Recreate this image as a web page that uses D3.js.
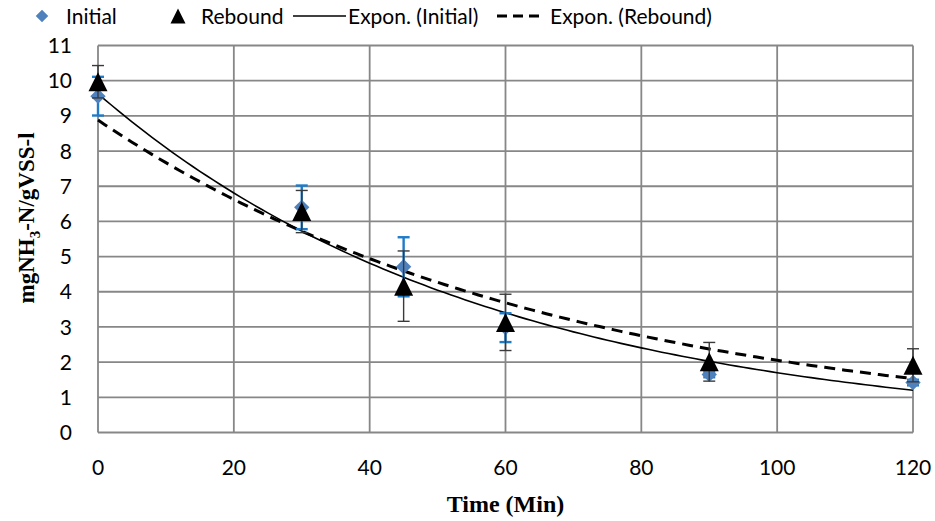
<!DOCTYPE html>
<html>
<head>
<meta charset="utf-8">
<script src="https://cdn.jsdelivr.net/npm/d3@7"></script>
<style>
  body { margin: 0; background: #fff; }
  .tick-label { font-family: Lato, "Open Sans", sans-serif; font-size: 21px; fill: #000; }
  .legend-text { font-family: Lato, "Open Sans", sans-serif; font-size: 21px; fill: #000; }
  .axis-title { font-family: "Liberation Serif", "Times New Roman", serif; font-weight: bold; fill: #000; }
</style>
</head>
<body>
<script>
// data
const times = [0, 30, 45, 60, 90, 120];
const initialValues = [9.56, 6.40, 4.71, 2.98, 1.65, 1.42];
const initialErrors = [0.55, 0.62, 0.84, 0.41, 0.08, 0.08];
const reboundValues = [9.97, 6.28, 4.16, 3.13, 2.01, 1.91];
const reboundErrors = [0.46, 0.60, 1.00, 0.80, 0.55, 0.47];
const xTicks = [0, 20, 40, 60, 80, 100, 120];
const yTicks = [0, 1, 2, 3, 4, 5, 6, 7, 8, 9, 10, 11];

const width = 935;
const height = 521;
const plot = { left: 98, right: 913, top: 45.5, bottom: 432.5 };

const svg = d3.select('body').append('svg')
    .attr('width', width)
    .attr('height', height);

const xScale = d3.scaleLinear().domain([0, 120]).range([plot.left, plot.right]);
const yScale = d3.scaleLinear().domain([0, 11]).range([plot.bottom, plot.top]);

// exponential trendline, least squares on ln(y) like Excel does
function expFit(xs, ys) {
    const ly = ys.map(Math.log);
    const mx = d3.mean(xs), my = d3.mean(ly);
    const sxy = d3.sum(xs, (x, i) => (x - mx) * (ly[i] - my));
    const sxx = d3.sum(xs, x => (x - mx) * (x - mx));
    const b = sxy / sxx;
    const a = Math.exp(my - b * mx);
    return x => a * Math.exp(b * x);
}
const fitInitial = expFit(times, initialValues);
const fitRebound = expFit(times, reboundValues);

// excel style triangle marker, as wide as it is tall
const tri = s => `M0,${-s / 2}L${s / 2},${s / 2}L${-s / 2},${s / 2}Z`;

// gridlines
const grid = svg.append('g').attr('stroke', '#878787').attr('stroke-width', 1.8);
grid.selectAll('.hgrid')
    .data(yTicks)
    .enter()
    .append('line')
    .attr('x1', plot.left).attr('x2', plot.right)
    .attr('y1', d => yScale(d)).attr('y2', d => yScale(d));
grid.selectAll('.vgrid')
    .data(xTicks)
    .enter()
    .append('line')
    .attr('x1', d => xScale(d)).attr('x2', d => xScale(d))
    .attr('y1', plot.top).attr('y2', plot.bottom);

// tick labels
svg.selectAll('.ylab')
    .data(yTicks)
    .enter()
    .append('text')
    .attr('class', 'tick-label')
    .attr('text-anchor', 'end')
    .attr('x', 72)
    .attr('y', d => yScale(d))
    .attr('dy', '0.36em')
    .text(d => d);

svg.selectAll('.xlab')
    .data(xTicks)
    .enter()
    .append('text')
    .attr('class', 'tick-label')
    .attr('text-anchor', 'middle')
    .attr('x', d => xScale(d))
    .attr('y', 475)
    .text(d => d);

// axis titles
svg.append('text')
    .attr('class', 'axis-title')
    .attr('font-size', 24)
    .attr('text-anchor', 'middle')
    .attr('x', xScale(60))
    .attr('y', 512)
    .text('Time (Min)');

const yTitle = svg.append('text')
    .attr('class', 'axis-title')
    .attr('font-size', 23)
    .attr('text-anchor', 'middle')
    .attr('transform', 'translate(34, 218) rotate(-90)');
yTitle.append('tspan').text('mgNH');
yTitle.append('tspan').attr('font-size', 15).attr('dy', 6).text('3');
yTitle.append('tspan').attr('dy', -6).text('-N/gVSS-l');

// trendlines
const samples = d3.range(0, 120.01, 1);
const line = f => d3.line().x(t => xScale(t)).y(t => yScale(f(t)))(samples);

svg.append('path')
    .attr('d', line(fitInitial))
    .attr('fill', 'none')
    .attr('stroke', '#000')
    .attr('stroke-width', 1.6);

svg.append('path')
    .attr('d', line(fitRebound))
    .attr('fill', 'none')
    .attr('stroke', '#000')
    .attr('stroke-width', 3)
    .attr('stroke-dasharray', '11,7');

// error bars
function errorBars(values, errors, color, width) {
    const g = svg.append('g').attr('stroke', color).attr('stroke-width', width);
    const rows = times.map((t, i) => ({ t, v: values[i], e: errors[i] }));
    g.selectAll('.stem')
        .data(rows)
        .enter()
        .append('line')
        .attr('x1', d => xScale(d.t)).attr('x2', d => xScale(d.t))
        .attr('y1', d => yScale(d.v - d.e)).attr('y2', d => yScale(d.v + d.e));
    g.selectAll('.cap')
        .data(rows.flatMap(d => [d.v - d.e, d.v + d.e].map(y => ({ t: d.t, y }))))
        .enter()
        .append('line')
        .attr('x1', d => xScale(d.t) - 6).attr('x2', d => xScale(d.t) + 6)
        .attr('y1', d => yScale(d.y)).attr('y2', d => yScale(d.y));
}

errorBars(initialValues, initialErrors, '#1f7bc8', 2.4);

const diamond = d3.symbol().type(d3.symbolDiamond2).size(150);
svg.selectAll('.initial')
    .data(times)
    .enter()
    .append('path')
    .attr('d', diamond)
    .attr('transform', (d, i) => `translate(${xScale(d)},${yScale(initialValues[i])})`)
    .attr('fill', '#4f81bd');

errorBars(reboundValues, reboundErrors, '#3a3a3a', 1.4);

svg.selectAll('.rebound')
    .data(times)
    .enter()
    .append('path')
    .attr('d', tri(19))
    .attr('transform', (d, i) => `translate(${xScale(d)},${yScale(reboundValues[i])})`)
    .attr('fill', '#000');

// legend
const legend = svg.append('g').attr('transform', 'translate(0, 16)');
legend.append('path')
    .attr('d', d3.symbol().type(d3.symbolDiamond2).size(100))
    .attr('transform', 'translate(42, 0)')
    .attr('fill', '#4f81bd');
legend.append('text').attr('class', 'legend-text').attr('x', 66).attr('dy', '0.36em').text('Initial');
legend.append('path')
    .attr('d', tri(15))
    .attr('transform', 'translate(178, 0)')
    .attr('fill', '#000');
legend.append('text').attr('class', 'legend-text').attr('x', 201).attr('dy', '0.36em').text('Rebound');
legend.append('line')
    .attr('x1', 293).attr('x2', 346)
    .attr('stroke', '#000').attr('stroke-width', 1.4);
legend.append('text').attr('class', 'legend-text').attr('x', 348).attr('dy', '0.36em').text('Expon. (Initial)');
legend.append('line')
    .attr('x1', 497).attr('x2', 545)
    .attr('stroke', '#000').attr('stroke-width', 3)
    .attr('stroke-dasharray', '10,6,10,6,10,6,2');
legend.append('text').attr('class', 'legend-text').attr('x', 550).attr('dy', '0.36em').text('Expon. (Rebound)');
</script>
</body>
</html>
